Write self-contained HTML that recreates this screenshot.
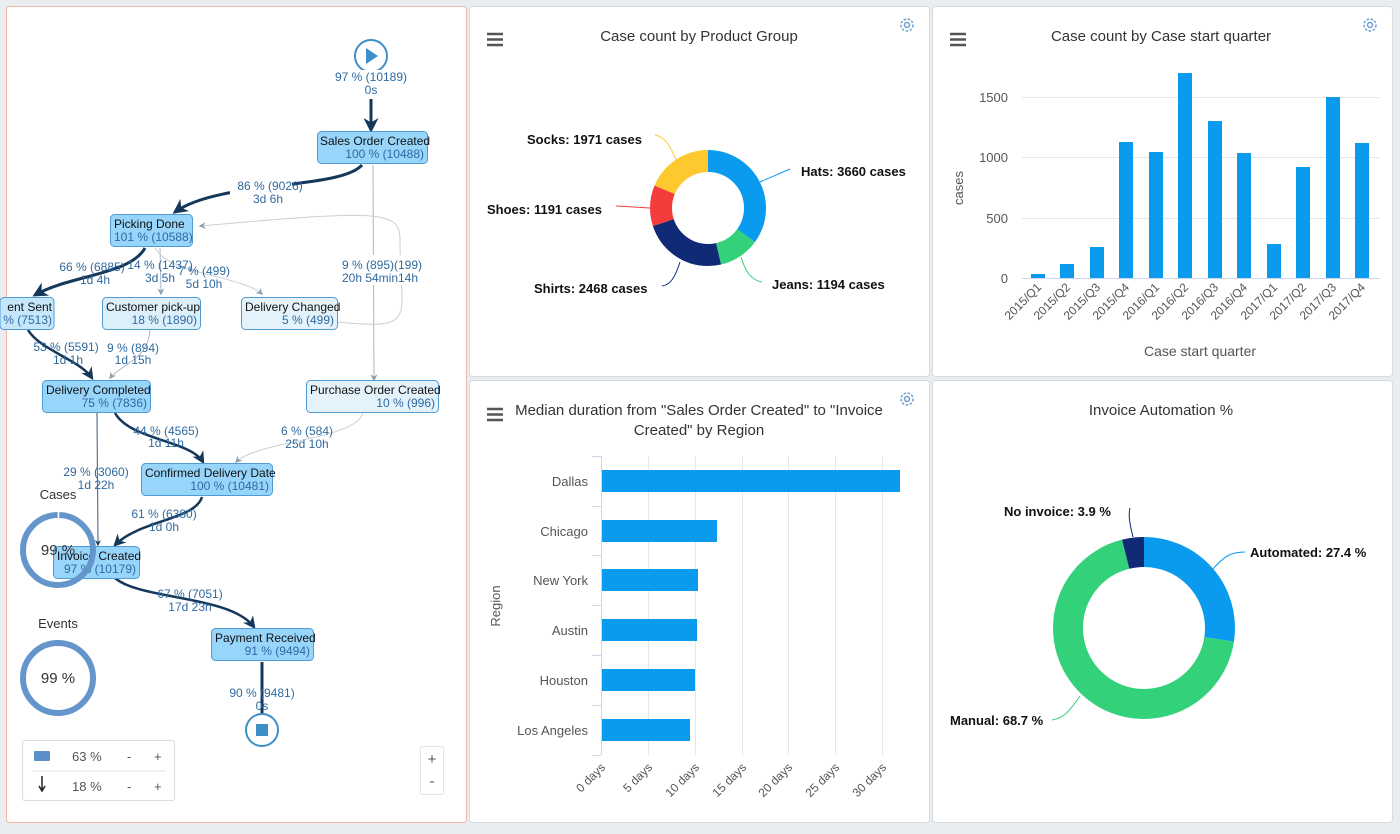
<!DOCTYPE html>
<html><head><meta charset="utf-8"><style>
body{margin:0;width:1400px;height:829px;overflow:hidden;background:#e9edf0;font-family:"Liberation Sans",sans-serif}
</style></head><body>
<svg width="1400" height="829" xmlns="http://www.w3.org/2000/svg" font-family="Liberation Sans, sans-serif">
<defs>
<marker id="ad" viewBox="0 0 10 10" refX="8" refY="5" markerWidth="5" markerHeight="5" orient="auto"><path d="M0,0L10,5L0,10L3,5z" fill="#15375a"/></marker>
<marker id="al" viewBox="0 0 10 10" refX="8" refY="5" markerWidth="7" markerHeight="7" orient="auto"><path d="M0,0L10,5L0,10L3,5z" fill="#8ba1b5"/></marker>
</defs>
<rect width="1400" height="829" fill="#e9edf0"/>
<!-- panels -->
<rect x="6.5" y="6.5" width="460" height="816" rx="3" fill="#fff" stroke="#f4b6a6"/>
<rect x="469.5" y="6.5" width="460" height="370" rx="3" fill="#fff" stroke="#d6dbe0"/>
<rect x="932.5" y="6.5" width="460" height="370" rx="3" fill="#fff" stroke="#d6dbe0"/>
<rect x="469.5" y="380.5" width="460" height="442" rx="3" fill="#fff" stroke="#d6dbe0"/>
<rect x="932.5" y="380.5" width="460" height="442" rx="3" fill="#fff" stroke="#d6dbe0"/>

<!-- ===== process map ===== -->
<g fill="none">
<path d="M371,99 L371,130" stroke="#15375a" stroke-width="3" marker-end="url(#ad)"/>
<path d="M362,165 C340,190 220,180 175,212" stroke="#15375a" stroke-width="3" marker-end="url(#ad)"/>
<path d="M373,165 L374,380" stroke="#aab6c2" stroke-width="1" marker-end="url(#al)"/>
<path d="M337,322 C420,330 400,320 400,240 C400,210 380,210 200,226" stroke="#c8d0d8" stroke-width="1" marker-end="url(#al)"/>
<path d="M145,248 C130,275 70,275 35,295" stroke="#15375a" stroke-width="3" marker-end="url(#ad)"/>
<path d="M160,248 L161,294" stroke="#aab6c2" stroke-width="1" marker-end="url(#al)"/>
<path d="M155,248 C170,275 240,275 262,294" stroke="#c8d0d8" stroke-width="1" marker-end="url(#al)"/>
<path d="M28,330 C40,350 80,360 92,378" stroke="#15375a" stroke-width="2.5" marker-end="url(#ad)"/>
<path d="M150,330 C148,360 120,365 110,378" stroke="#aab6c2" stroke-width="1" marker-end="url(#al)"/>
<path d="M115,413 C130,440 190,440 203,462" stroke="#15375a" stroke-width="2.5" marker-end="url(#ad)"/>
<path d="M363,413 C355,440 260,440 236,462" stroke="#c8d0d8" stroke-width="1" marker-end="url(#al)"/>
<path d="M97,413 L98,545" stroke="#5a7590" stroke-width="1.2" marker-end="url(#ad)"/>
<path d="M202,497 C195,520 140,520 115,545" stroke="#15375a" stroke-width="2.5" marker-end="url(#ad)"/>
<path d="M115,578 C140,600 230,595 254,627" stroke="#15375a" stroke-width="2.5" marker-end="url(#ad)"/>
<path d="M262,662 L262,716" stroke="#15375a" stroke-width="3"/>
</g>
<circle cx="371" cy="56" r="16" fill="#fff" stroke="#3d8fc7" stroke-width="2"/>
<path d="M366,48 L378,56 L366,64z" fill="#3d8fc7"/>
<circle cx="262" cy="730" r="16" fill="#fff" stroke="#3d8fc7" stroke-width="2"/>
<rect x="256" y="724" width="12" height="12" fill="#3d8fc7"/>
<g fill="#fff"><rect x="335" y="70" width="72" height="26"/><rect x="230" y="178" width="62" height="26"/><rect x="333" y="255" width="92" height="30"/></g>
<g font-size="12" fill="#2f6aa0" text-anchor="middle">
<text x="371" y="81">97 % (10189)</text><text x="371" y="94">0s</text>
<text x="270" y="190">86 % (9026)</text><text x="268" y="203">3d 6h</text>
<text x="92" y="271">66 % (6885)</text><text x="95" y="284">1d 4h</text>
<text x="160" y="269">14 % (1437)</text><text x="160" y="282">3d 5h</text>
<text x="204" y="275">7 % (499)</text><text x="204" y="288">5d 10h</text>
<text x="382" y="269">9 % (895)(199)</text><text x="380" y="282">20h 54min14h</text>
<text x="66" y="351">53 % (5591)</text><text x="68" y="364">1d 1h</text>
<text x="133" y="352">9 % (894)</text><text x="133" y="364">1d 15h</text>
<text x="166" y="435">44 % (4565)</text><text x="166" y="447">1d 11h</text>
<text x="307" y="435">6 % (584)</text><text x="307" y="448">25d 10h</text>
<text x="96" y="476">29 % (3060)</text><text x="96" y="489">1d 22h</text>
<text x="164" y="518">61 % (6380)</text><text x="164" y="531">1d 0h</text>
<text x="190" y="598">67 % (7051)</text><text x="190" y="611">17d 23h</text>
<text x="262" y="697">90 % (9481)</text><text x="262" y="710">0s</text>
</g>
<g stroke="#4f9bd4" stroke-width="1">
<rect x="317.5" y="131.5" width="110" height="32" rx="4" fill="#97d5fb"/>
<rect x="110.5" y="214.5" width="82" height="32" rx="4" fill="#97d5fb"/>
<rect x="0" y="297.5" width="54" height="32" rx="4" fill="#c6e7fb"/>
<rect x="102.5" y="297.5" width="98" height="32" rx="4" fill="#dcf0fc"/>
<rect x="241.5" y="297.5" width="96" height="32" rx="4" fill="#e4f2fc"/>
<rect x="42.5" y="380.5" width="108" height="32" rx="4" fill="#97d5fb"/>
<rect x="306.5" y="380.5" width="132" height="32" rx="4" fill="#e4f2fc"/>
<rect x="141.5" y="463.5" width="131" height="32" rx="4" fill="#97d5fb"/>
<rect x="53.5" y="546.5" width="86" height="32" rx="4" fill="#97d5fb"/>
<rect x="211.5" y="628.5" width="102" height="32" rx="4" fill="#97d5fb"/>
</g>
<g font-size="12">
<text x="320" y="145" fill="#111">Sales Order Created</text><text x="424" y="158" fill="#2f6aa0" text-anchor="end">100 % (10488)</text>
<text x="114" y="228" fill="#111">Picking Done</text><text x="114" y="241" fill="#2f6aa0">101 % (10588)</text>
<text x="52" y="311" fill="#111" text-anchor="end">ent Sent</text><text x="52" y="324" fill="#2f6aa0" text-anchor="end">% (7513)</text>
<text x="106" y="311" fill="#111">Customer pick-up</text><text x="197" y="324" fill="#2f6aa0" text-anchor="end">18 % (1890)</text>
<text x="245" y="311" fill="#111">Delivery Changed</text><text x="334" y="324" fill="#2f6aa0" text-anchor="end">5 % (499)</text>
<text x="46" y="394" fill="#111">Delivery Completed</text><text x="147" y="407" fill="#2f6aa0" text-anchor="end">75 % (7836)</text>
<text x="310" y="394" fill="#111">Purchase Order Created</text><text x="435" y="407" fill="#2f6aa0" text-anchor="end">10 % (996)</text>
<text x="145" y="477" fill="#111">Confirmed Delivery Date</text><text x="269" y="490" fill="#2f6aa0" text-anchor="end">100 % (10481)</text>
<text x="57" y="560" fill="#111">Invoice Created</text><text x="136" y="573" fill="#2f6aa0" text-anchor="end">97 % (10179)</text>
<text x="215" y="642" fill="#111">Payment Received</text><text x="310" y="655" fill="#2f6aa0" text-anchor="end">91 % (9494)</text>
</g>
<text x="58" y="499" font-size="13" fill="#333" text-anchor="middle">Cases</text>
<circle cx="58" cy="550" r="35" fill="none" stroke="#6496cc" stroke-width="6" stroke-dasharray="218 2" transform="rotate(-88 58 550)"/>
<text x="58" y="555" font-size="15" fill="#333" text-anchor="middle">99 %</text>
<text x="58" y="628" font-size="13" fill="#333" text-anchor="middle">Events</text>
<circle cx="58" cy="678" r="35" fill="none" stroke="#6496cc" stroke-width="6"/>
<text x="58" y="683" font-size="15" fill="#333" text-anchor="middle">99 %</text>
<rect x="22.5" y="740.5" width="152" height="60" rx="2" fill="#fff" stroke="#d8dde2"/>
<line x1="32" y1="771" x2="166" y2="771" stroke="#dde2e6"/>
<rect x="34" y="751" width="16" height="10" rx="1" fill="#5b8fc9"/>
<path d="M42,776 L42,790 M39,786 L42,791 L45,786" stroke="#222" stroke-width="1.5" fill="none"/>
<g font-size="13" fill="#555"><text x="72" y="761">63 %</text><text x="72" y="791">18 %</text>
<text x="127" y="761">-</text><text x="154" y="761">+</text><text x="127" y="791">-</text><text x="154" y="791">+</text></g>
<rect x="420.5" y="746.5" width="23" height="48" rx="2" fill="#fff" stroke="#e0e4e8"/>
<text x="432" y="764" font-size="15" fill="#555" text-anchor="middle">+</text><text x="432" y="786" font-size="15" fill="#555" text-anchor="middle">-</text>

<!-- hamburgers & gears -->
<g stroke="#555" stroke-width="2.4"><path d="M487,34h16M487,39.5h16M487,45h16"/><path d="M950,34h16M950,39.5h16M950,45h16"/><path d="M487,409h16M487,414.5h16M487,420h16"/></g>
<g fill="none" stroke="#6a9fd0" stroke-width="1.5"><circle cx="907" cy="25" r="6" stroke-dasharray="2.5 1.6"/><circle cx="907" cy="25" r="2.5"/><circle cx="1370" cy="25" r="6" stroke-dasharray="2.5 1.6"/><circle cx="1370" cy="25" r="2.5"/><circle cx="907" cy="399" r="6" stroke-dasharray="2.5 1.6"/><circle cx="907" cy="399" r="2.5"/></g>

<!-- ===== donut 1 ===== -->
<text x="699" y="41" font-size="15" fill="#333" text-anchor="middle">Case count by Product Group</text>
<g fill="none" stroke-width="22" transform="rotate(-90 708 208)">
<circle cx="708" cy="208" r="47" stroke="#0a9aee" stroke-dasharray="103.1 400"/>
<circle cx="708" cy="208" r="47" stroke="#33d17a" stroke-dasharray="33.64 400" stroke-dashoffset="-103.1"/>
<circle cx="708" cy="208" r="47" stroke="#102a75" stroke-dasharray="69.51 400" stroke-dashoffset="-136.74"/>
<circle cx="708" cy="208" r="47" stroke="#f53c3c" stroke-dasharray="33.55 400" stroke-dashoffset="-206.25"/>
<circle cx="708" cy="208" r="47" stroke="#fdc92f" stroke-dasharray="55.52 400" stroke-dashoffset="-239.8"/>
</g>
<g fill="none" stroke-width="1">
<path d="M760,182 L790,169" stroke="#0a9aee"/><path d="M741,257 C745,270 750,280 762,282" stroke="#33d17a"/>
<path d="M680,262 C675,278 670,285 662,286" stroke="#102a75"/><path d="M650,208 L616,206" stroke="#f53c3c"/>
<path d="M676,160 C670,145 665,137 655,135" stroke="#fdc92f"/>
</g>
<g font-size="13" font-weight="bold" fill="#111">
<text x="801" y="176">Hats: 3660 cases</text><text x="772" y="289">Jeans: 1194 cases</text>
<text x="534" y="293">Shirts: 2468 cases</text><text x="487" y="214">Shoes: 1191 cases</text><text x="527" y="144">Socks: 1971 cases</text>
</g>

<!-- ===== column chart ===== -->
<text x="1161" y="41" font-size="15" fill="#333" text-anchor="middle">Case count by Case start quarter</text>
<g stroke="#e6e6e6"><line x1="1022" y1="97.5" x2="1380" y2="97.5"/><line x1="1022" y1="157.5" x2="1380" y2="157.5"/><line x1="1022" y1="218.5" x2="1380" y2="218.5"/></g>
<line x1="1022" y1="278.5" x2="1380" y2="278.5" stroke="#ccd6eb"/>
<g font-size="13" fill="#555" text-anchor="end"><text x="1008" y="102">1500</text><text x="1008" y="162">1000</text><text x="1008" y="223">500</text><text x="1008" y="283">0</text></g>
<text x="963" y="188" font-size="13" fill="#555" text-anchor="middle" transform="rotate(-90 963 188)">cases</text>
<g fill="#0a9aee">
<rect x="1031" y="274" width="14" height="4"/><rect x="1060" y="264" width="14" height="14"/><rect x="1090" y="247" width="14" height="31"/>
<rect x="1119" y="142" width="14" height="136"/><rect x="1149" y="152" width="14" height="126"/><rect x="1178" y="73" width="14" height="205"/>
<rect x="1208" y="121" width="14" height="157"/><rect x="1237" y="153" width="14" height="125"/><rect x="1267" y="244" width="14" height="34"/>
<rect x="1296" y="167" width="14" height="111"/><rect x="1326" y="97" width="14" height="181"/><rect x="1355" y="143" width="14" height="135"/>
</g>
<g font-size="12" fill="#555" text-anchor="end">
<text transform="translate(1042,288) rotate(-45)">2015/Q1</text><text transform="translate(1071,288) rotate(-45)">2015/Q2</text>
<text transform="translate(1101,288) rotate(-45)">2015/Q3</text><text transform="translate(1130,288) rotate(-45)">2015/Q4</text>
<text transform="translate(1160,288) rotate(-45)">2016/Q1</text><text transform="translate(1189,288) rotate(-45)">2016/Q2</text>
<text transform="translate(1219,288) rotate(-45)">2016/Q3</text><text transform="translate(1248,288) rotate(-45)">2016/Q4</text>
<text transform="translate(1278,288) rotate(-45)">2017/Q1</text><text transform="translate(1307,288) rotate(-45)">2017/Q2</text>
<text transform="translate(1337,288) rotate(-45)">2017/Q3</text><text transform="translate(1366,288) rotate(-45)">2017/Q4</text>
</g>
<text x="1200" y="356" font-size="14" fill="#555" text-anchor="middle">Case start quarter</text>

<!-- ===== horizontal bars ===== -->
<text x="699" y="415" font-size="15" fill="#333" text-anchor="middle">Median duration from "Sales Order Created" to "Invoice</text>
<text x="699" y="435" font-size="15" fill="#333" text-anchor="middle">Created" by Region</text>
<g stroke="#e6e6e6"><line x1="648.5" y1="456" x2="648.5" y2="755"/><line x1="695.5" y1="456" x2="695.5" y2="755"/><line x1="742.5" y1="456" x2="742.5" y2="755"/><line x1="788.5" y1="456" x2="788.5" y2="755"/><line x1="835.5" y1="456" x2="835.5" y2="755"/><line x1="882.5" y1="456" x2="882.5" y2="755"/></g>
<line x1="601.5" y1="456" x2="601.5" y2="755" stroke="#ccd6eb"/>
<g stroke="#ccd6eb"><line x1="592" y1="456.5" x2="601" y2="456.5"/><line x1="592" y1="506.5" x2="601" y2="506.5"/><line x1="592" y1="555.5" x2="601" y2="555.5"/><line x1="592" y1="605.5" x2="601" y2="605.5"/><line x1="592" y1="655.5" x2="601" y2="655.5"/><line x1="592" y1="705.5" x2="601" y2="705.5"/><line x1="592" y1="755.5" x2="601" y2="755.5"/></g>
<g fill="#0a9aee">
<rect x="602" y="470" width="298" height="22"/><rect x="602" y="520" width="115" height="22"/><rect x="602" y="569" width="96" height="22"/>
<rect x="602" y="619" width="95" height="22"/><rect x="602" y="669" width="93" height="22"/><rect x="602" y="719" width="88" height="22"/>
</g>
<g font-size="13" fill="#555" text-anchor="end">
<text x="588" y="486">Dallas</text><text x="588" y="536">Chicago</text><text x="588" y="585">New York</text>
<text x="588" y="635">Austin</text><text x="588" y="685">Houston</text><text x="588" y="735">Los Angeles</text>
</g>
<text x="500" y="606" font-size="13" fill="#555" text-anchor="middle" transform="rotate(-90 500 606)">Region</text>
<g font-size="12" fill="#555" text-anchor="end">
<text transform="translate(606,768) rotate(-45)">0 days</text><text transform="translate(653,768) rotate(-45)">5 days</text>
<text transform="translate(700,768) rotate(-45)">10 days</text><text transform="translate(747,768) rotate(-45)">15 days</text>
<text transform="translate(793,768) rotate(-45)">20 days</text><text transform="translate(840,768) rotate(-45)">25 days</text>
<text transform="translate(887,768) rotate(-45)">30 days</text>
</g>

<!-- ===== donut 2 ===== -->
<text x="1161" y="415" font-size="15" fill="#333" text-anchor="middle">Invoice Automation %</text>
<g fill="none" stroke-width="30" transform="rotate(-90 1144 628)">
<circle cx="1144" cy="628" r="76" stroke="#0a9aee" stroke-dasharray="130.8 500"/>
<circle cx="1144" cy="628" r="76" stroke="#33d17a" stroke-dasharray="328 500" stroke-dashoffset="-130.8"/>
<circle cx="1144" cy="628" r="76" stroke="#102a75" stroke-dasharray="18.6 500" stroke-dashoffset="-458.8"/>
</g>
<g fill="none" stroke-width="1">
<path d="M1212,570 C1225,555 1232,552 1245,552" stroke="#0a9aee"/>
<path d="M1080,696 C1070,710 1065,718 1052,720" stroke="#33d17a"/>
<path d="M1133,537 C1130,525 1128,515 1130,508" stroke="#102a75"/>
</g>
<g font-size="13" font-weight="bold" fill="#111">
<text x="1250" y="557">Automated: 27.4 %</text><text x="950" y="725">Manual: 68.7 %</text><text x="1004" y="516">No invoice: 3.9 %</text>
</g>
</svg>
</body></html>
